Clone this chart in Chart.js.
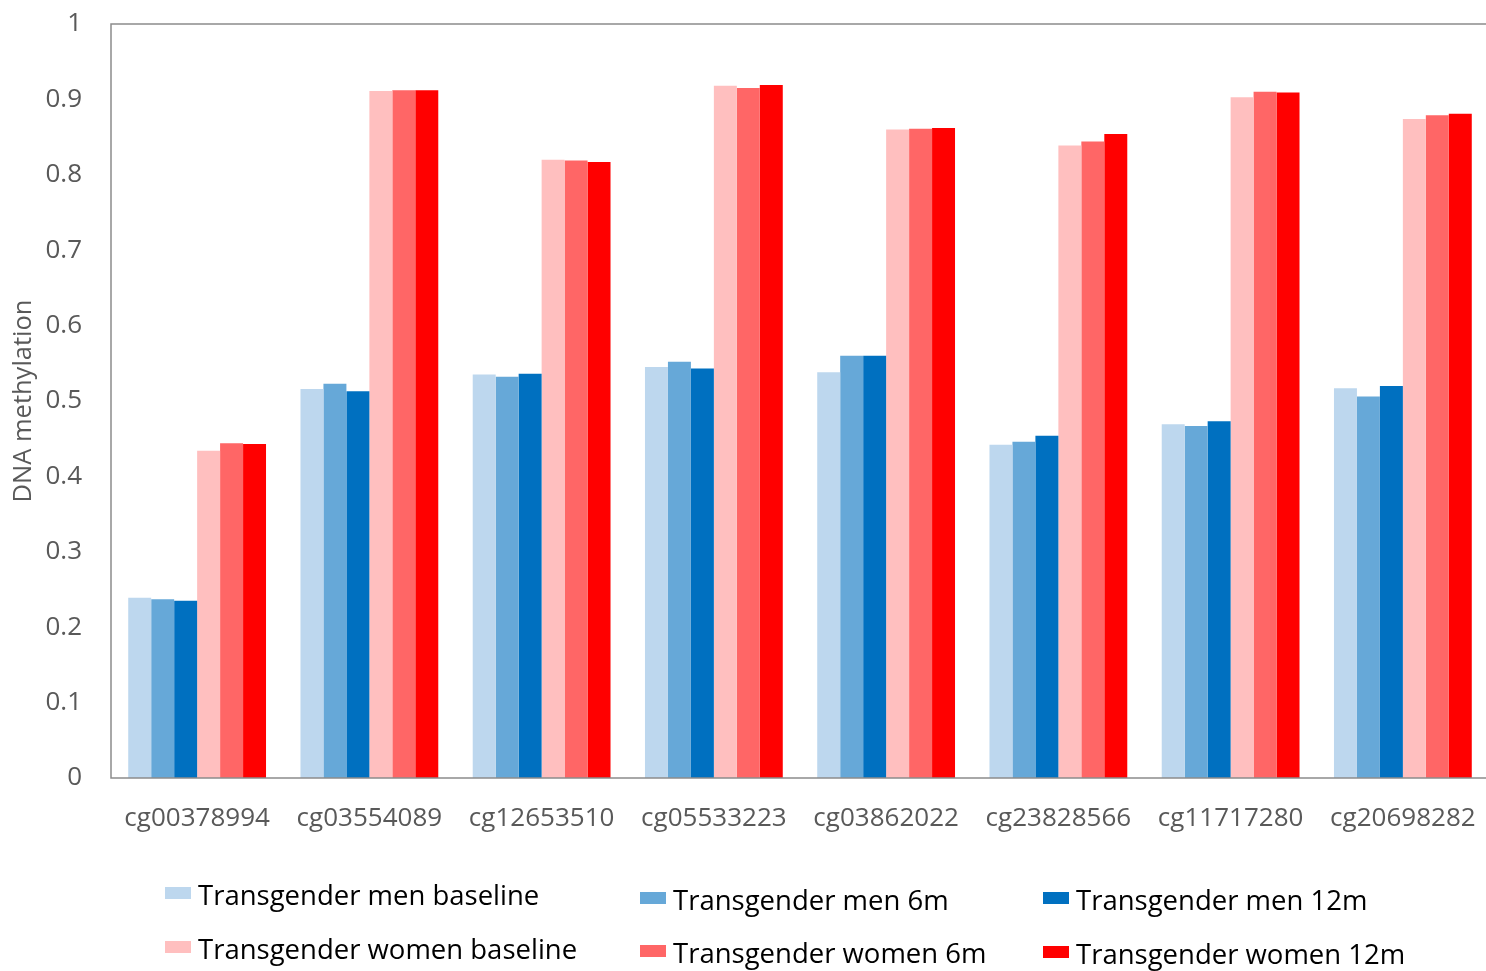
<!DOCTYPE html>
<html>
<head>
<meta charset="utf-8">
<script src="https://cdn.jsdelivr.net/npm/chart.js@4"></script>
<style>
  html, body { margin: 0; padding: 0; background: #fff; overflow: hidden; }
  #wrap { position: relative; width: 1489px; height: 971px; }
  .lg { position: absolute; font-family: "Open Sans", sans-serif; font-size: 27.5px; color: #000; white-space: nowrap; line-height: 30px; }
  .lg i { position: absolute; width: 26px; height: 12px; }
</style>
</head>
<body>
<div id="wrap">
  <canvas id="chart" width="1489" height="971"></canvas>
  <div id="legend"></div>
</div>
<script>
"use strict";

const categories = ["cg00378994", "cg03554089", "cg12653510", "cg05533223",
  "cg03862022", "cg23828566", "cg11717280", "cg20698282"];

const menBaseline   = [0.239, 0.516, 0.535, 0.545, 0.538, 0.442, 0.469, 0.517];
const men6m         = [0.237, 0.523, 0.532, 0.552, 0.560, 0.446, 0.467, 0.506];
const men12m        = [0.235, 0.513, 0.536, 0.543, 0.560, 0.454, 0.473, 0.520];
const womenBaseline = [0.434, 0.911, 0.820, 0.918, 0.860, 0.839, 0.903, 0.874];
const women6m       = [0.444, 0.912, 0.819, 0.915, 0.861, 0.844, 0.910, 0.879];
const women12m      = [0.443, 0.912, 0.817, 0.919, 0.862, 0.854, 0.909, 0.881];

const seriesNames = ["Transgender men baseline", "Transgender men 6m", "Transgender men 12m",
  "Transgender women baseline", "Transgender women 6m", "Transgender women 12m"];
const seriesColors = ["#bdd7ee", "#66a8d8", "#0070c0", "#ffbfbf", "#ff6666", "#ff0000"];
const seriesData = [menBaseline, men6m, men12m, womenBaseline, women6m, women12m];

const yTicks = [0, 0.1, 0.2, 0.3, 0.4, 0.5, 0.6, 0.7, 0.8, 0.9, 1];

const axisGrey = "#595959";
const lineGrey = "#8c8c8c";

// frame on top/left/bottom of plot area, like the original
const frame = {
  id: "frame",
  afterDraw(chart) {
    const { ctx, chartArea: a } = chart;
    ctx.save();
    ctx.strokeStyle = lineGrey;
    ctx.lineWidth = 1.5;
    ctx.beginPath();
    ctx.moveTo(a.right, a.top);
    ctx.lineTo(a.left, a.top);
    ctx.lineTo(a.left, a.bottom);
    ctx.lineTo(a.right, a.bottom);
    ctx.stroke();
    ctx.restore();
  },
};

new Chart(document.getElementById("chart"), {
  type: "bar",
  data: {
    labels: categories,
    datasets: seriesNames.map((name, i) => ({
      label: name,
      data: seriesData[i],
      backgroundColor: seriesColors[i],
      borderWidth: 0,
      categoryPercentage: 0.8,
      barPercentage: 1.0,
    })),
  },
  options: {
    responsive: false,
    animation: false,
    layout: { padding: { top: 24, right: 0, left: 0, bottom: 0 } },
    scales: {
      x: {
        grid: { display: false },
        border: { display: false },
        ticks: {
          color: axisGrey,
          padding: 17,
          maxRotation: 0,
          font: { family: "'Open Sans', sans-serif", size: 26 },
        },
        afterFit(axis) {
          axis.height = 193;
          axis.paddingLeft = 0;
          axis.paddingRight = 0;
        },
      },
      y: {
        min: 0,
        max: 1,
        grid: { display: false },
        border: { display: false },
        afterBuildTicks(axis) { axis.ticks = yTicks.map((v) => ({ value: v })); },
        ticks: {
          color: axisGrey,
          padding: 21,
          callback: (v) => String(Math.round(v * 10) / 10),
          font: { family: "'Open Sans', sans-serif", size: 26 },
        },
        title: {
          display: true,
          text: "DNA methylation",
          color: axisGrey,
          padding: { top: 8, bottom: 0 },
          font: { family: "'Open Sans', sans-serif", size: 25.5 },
        },
        afterFit(axis) {
          axis.width = 111;
          axis.paddingTop = 0;
          axis.paddingBottom = 0;
        },
      },
    },
    plugins: {
      legend: { display: false },
      tooltip: { enabled: false },
    },
  },
  plugins: [frame],
});

// legend laid out in 2 rows x 3 columns below the axis (marker left / top)
const legendSlots = [
  { x: 165, y: 887 }, { x: 640, y: 892 }, { x: 1043, y: 892 },
  { x: 165, y: 941 }, { x: 640, y: 945 }, { x: 1043, y: 946 },
];
const legendEl = document.getElementById("legend");
seriesNames.forEach((name, i) => {
  const s = legendSlots[i];
  const item = document.createElement("div");
  item.className = "lg";
  item.style.left = s.x + "px";
  item.style.top = (s.y - 7) + "px";
  item.innerHTML = '<i style="left:0;top:7px;background:' + seriesColors[i] + '"></i>' +
    '<span style="margin-left:33px">' + name + "</span>";
  legendEl.appendChild(item);
});
</script>
</body>
</html>
